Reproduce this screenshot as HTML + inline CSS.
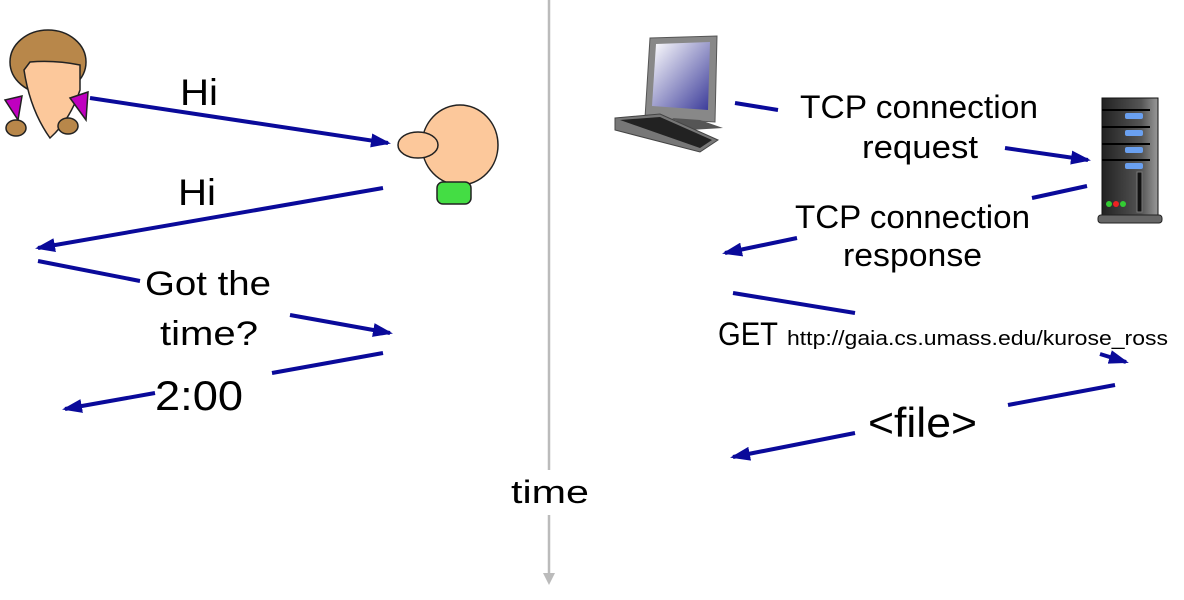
<!DOCTYPE html>
<html><head><meta charset="utf-8"><style>
html,body{margin:0;padding:0;background:#fff;}
svg{display:block;}
text{font-family:"Liberation Sans",sans-serif;fill:#000;}
</style></head><body>
<svg width="1184" height="600" viewBox="0 0 1184 600" xmlns="http://www.w3.org/2000/svg">
<defs>
<marker id="a" markerWidth="20" markerHeight="14" refX="17" refY="7" orient="auto" markerUnits="userSpaceOnUse"><path d="M0,0 L20,7 L0,14 z" fill="#0a0a9a"/></marker>
<linearGradient id="scr" x1="0" y1="0" x2="1" y2="1"><stop offset="0" stop-color="#fff"/><stop offset="1" stop-color="#3a3a99"/></linearGradient>
<linearGradient id="srv" x1="0" y1="0" x2="1" y2="0"><stop offset="0" stop-color="#222"/><stop offset="0.7" stop-color="#555"/><stop offset="1" stop-color="#999"/></linearGradient>
</defs>
<line x1="549" y1="0" x2="549" y2="576" stroke="#bbb" stroke-width="2.5"/>
<path d="M543,573 L549,585 L555,573 z" fill="#bbb"/>
<rect x="505" y="470" width="88" height="45" fill="#fff"/>
<text x="550" y="503" font-size="32" text-anchor="middle" textLength="78" lengthAdjust="spacingAndGlyphs">time</text>

<g stroke="#0a0a9a" stroke-width="4" fill="none">
<line x1="90" y1="98" x2="388" y2="143" marker-end="url(#a)"/>
<line x1="383" y1="188" x2="38" y2="248" marker-end="url(#a)"/>
<line x1="38" y1="261" x2="140" y2="281"/>
<line x1="290" y1="315" x2="390" y2="333" marker-end="url(#a)"/>
<line x1="383" y1="353" x2="272" y2="373"/>
<line x1="155" y1="393" x2="65" y2="409" marker-end="url(#a)"/>

<line x1="735" y1="103" x2="778" y2="110"/>
<line x1="1005" y1="148" x2="1088" y2="160" marker-end="url(#a)"/>
<line x1="1087" y1="186" x2="1032" y2="198"/>
<line x1="797" y1="238" x2="725" y2="253" marker-end="url(#a)"/>
<line x1="733" y1="293" x2="855" y2="313"/>
<line x1="1100" y1="354" x2="1126" y2="362" marker-end="url(#a)"/>
<line x1="1115" y1="385" x2="1008" y2="405"/>
<line x1="855" y1="433" x2="733" y2="457" marker-end="url(#a)"/>
</g>

<text x="180" y="105" font-size="37" textLength="38" lengthAdjust="spacingAndGlyphs">Hi</text>
<text x="178" y="205" font-size="37" textLength="38" lengthAdjust="spacingAndGlyphs">Hi</text>
<text x="145" y="295" font-size="34" textLength="126" lengthAdjust="spacingAndGlyphs">Got the</text>
<text x="160" y="345" font-size="34" textLength="98" lengthAdjust="spacingAndGlyphs">time?</text>
<text x="155" y="410" font-size="42" textLength="88" lengthAdjust="spacingAndGlyphs">2:00</text>

<text x="800" y="118" font-size="32" textLength="238" lengthAdjust="spacingAndGlyphs">TCP connection</text>
<text x="862" y="158" font-size="32" textLength="116" lengthAdjust="spacingAndGlyphs">request</text>
<text x="795" y="228" font-size="32" textLength="235" lengthAdjust="spacingAndGlyphs">TCP connection</text>
<text x="843" y="266" font-size="32" textLength="139" lengthAdjust="spacingAndGlyphs">response</text>
<text x="718" y="345" font-size="32" textLength="60" lengthAdjust="spacingAndGlyphs">GET</text>
<text x="787" y="345" font-size="20" textLength="381" lengthAdjust="spacingAndGlyphs">http://gaia.cs.umass.edu/kurose_ross</text>
<text x="868" y="437" font-size="42" textLength="109" lengthAdjust="spacingAndGlyphs">&lt;file&gt;</text>

<g stroke="#222" stroke-width="1.5">
<ellipse cx="48" cy="62" rx="38" ry="32" fill="#b8874a"/>
<path d="M24,70 Q30,110 50,138 Q70,120 80,90 L80,65 Q55,60 30,62 z" fill="#fcc89b"/>
<path d="M5,100 L22,96 L18,120 z" fill="#c000c0"/>
<path d="M70,98 L88,92 L86,120 z" fill="#c000c0"/>
<ellipse cx="16" cy="128" rx="10" ry="8" fill="#b8874a"/>
<ellipse cx="68" cy="126" rx="10" ry="8" fill="#b8874a"/>
</g>
<g stroke="#222" stroke-width="1.5">
<ellipse cx="460" cy="145" rx="38" ry="40" fill="#fcc89b"/>
<ellipse cx="418" cy="145" rx="20" ry="13" fill="#fcc89b"/>
<rect x="437" y="182" width="34" height="22" rx="6" fill="#44dd44"/>
</g>
<g>
<path d="M650,38 L717,36 L715,122 L645,118 z" fill="#888" stroke="#555"/>
<path d="M656,44 L710,42 L708,110 L652,106 z" fill="url(#scr)"/>
<path d="M672,118 L700,120 L723,128 L690,130 z" fill="#555"/>
<path d="M615,118 L660,114 L718,140 L700,152 L615,130 z" fill="#777" stroke="#444"/>
<path d="M620,120 L660,117 L712,140 L700,148 z" fill="#222"/>
</g>
<g>
<rect x="1102" y="98" width="56" height="122" fill="url(#srv)" stroke="#111"/>
<rect x="1098" y="215" width="64" height="8" rx="3" fill="#666" stroke="#222"/>
<g fill="#6aa0f0"><rect x="1125" y="113" width="18" height="6" rx="2"/><rect x="1125" y="130" width="18" height="6" rx="2"/><rect x="1125" y="147" width="18" height="6" rx="2"/><rect x="1125" y="163" width="18" height="6" rx="2"/></g>
<g stroke="#000" stroke-width="2"><line x1="1102" y1="110" x2="1150" y2="110"/><line x1="1102" y1="127" x2="1150" y2="127"/><line x1="1102" y1="144" x2="1150" y2="144"/><line x1="1102" y1="160" x2="1150" y2="160"/></g>
<rect x="1137" y="172" width="5" height="40" fill="#111" stroke="#777"/>
<circle cx="1109" cy="204" r="3" fill="#3c3"/><circle cx="1116" cy="204" r="3" fill="#e22"/><circle cx="1123" cy="204" r="3" fill="#3c3"/>
</g>
</svg>
</body></html>
